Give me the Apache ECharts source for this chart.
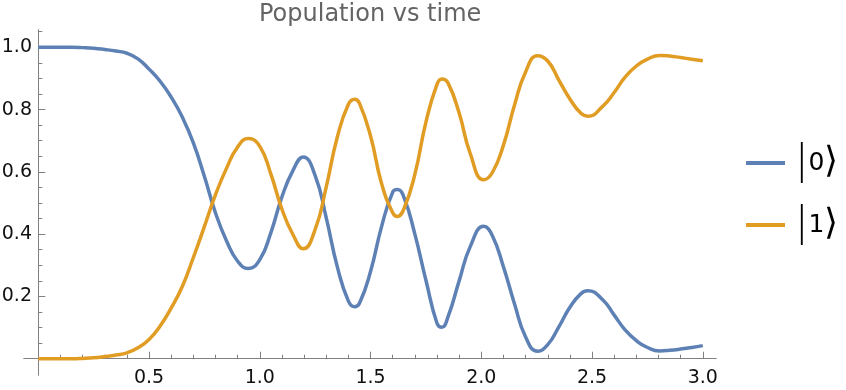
<!DOCTYPE html>
<html>
<head>
<meta charset="utf-8">
<script src="https://cdn.jsdelivr.net/npm/echarts@6/dist/echarts.min.js"></script>
<style>html,body{margin:0;padding:0;background:#fff;}#c{width:846px;height:390px;}</style>
</head>
<body>
<div id="c"></div>
<script>
// time samples (extrema included)
const times = [0.00,0.05,0.10,0.15,0.20,0.25,0.30,0.35,0.40,0.45,0.50,0.55,0.60,0.65,0.70,0.75,0.80,0.85,0.90,0.948,
  1.00,1.05,1.10,1.15,1.196,1.25,1.30,1.35,1.40,1.428,1.45,1.50,1.55,1.60,1.621,1.65,1.70,1.75,1.80,1.822,1.85,1.90,1.95,
  2.011,2.05,2.10,2.15,2.20,2.254,2.30,2.35,2.40,2.45,2.481,2.55,2.60,2.65,2.70,2.75,2.805,2.85,2.90,2.95,3.00];
// population of |0>
const pop0 = [1.000,1.000,1.000,1.000,0.999,0.997,0.993,0.988,0.981,0.963,0.930,0.891,0.840,0.776,0.693,0.585,0.468,0.378,0.313,0.290,
  0.318,0.405,0.520,0.605,0.648,0.588,0.452,0.295,0.185,0.167,0.178,0.280,0.425,0.535,0.543,0.520,0.400,0.252,0.114,0.101,0.135,0.250,0.360,
  0.425,0.395,0.295,0.176,0.070,0.024,0.045,0.102,0.165,0.209,0.218,0.188,0.140,0.092,0.058,0.036,0.025,0.027,0.031,0.036,0.042];
// population of |1>
const pop1 = [0.000,0.000,0.000,0.000,0.001,0.003,0.007,0.012,0.019,0.035,0.062,0.105,0.163,0.232,0.325,0.425,0.527,0.612,0.680,0.707,
  0.682,0.593,0.480,0.398,0.353,0.415,0.552,0.712,0.817,0.833,0.820,0.715,0.562,0.469,0.457,0.480,0.592,0.760,0.881,0.898,0.885,0.789,0.659,
  0.575,0.598,0.686,0.815,0.921,0.973,0.956,0.895,0.834,0.788,0.779,0.812,0.855,0.905,0.940,0.962,0.974,0.972,0.967,0.962,0.957];
const seriesNames = ['0', '1'];
const titleText = 'Population vs time';
const xMajor = [0.5,1.0,1.5,2.0,2.5,3.0];
const xMinor = [0.1,0.2,0.3,0.4,0.6,0.7,0.8,0.9,1.1,1.2,1.3,1.4,1.6,1.7,1.8,1.9,2.1,2.2,2.3,2.4,2.6,2.7,2.8,2.9];
const yMajor = [0.2,0.4,0.6,0.8,1.0];
const yMinor = [0.05,0.1,0.15,0.25,0.3,0.35,0.45,0.5,0.55,0.65,0.7,0.75,0.85,0.9,0.95,1.05];

const X_MIN = -0.0646, X_MAX = 3.0596, Y_MIN = -0.0523, Y_MAX = 1.0556;
const axisCol = '#808080';
const font = 'DejaVu Sans';

const chart = echarts.init(document.getElementById('c'), null, {renderer: 'canvas'});
function mk(arr) { return times.map((t, i) => [t, arr[i]]); }

const baseX = {
  type: 'value', min: X_MIN, max: X_MAX, position: 'bottom', gridIndex: 0,
  axisLine: {onZero: true, lineStyle: {color: axisCol, width: 1}},
  splitLine: {show: false}
};
const baseY = {
  type: 'value', min: Y_MIN, max: Y_MAX, position: 'left', gridIndex: 0,
  axisLine: {onZero: true, lineStyle: {color: axisCol, width: 1}},
  splitLine: {show: false}
};

chart.setOption({
  animation: false,
  backgroundColor: '#fff',
  title: {
    text: titleText, left: 254, top: -2,
    textStyle: {fontFamily: font, fontSize: 24, fontWeight: 'normal', color: '#646464'}
  },
  grid: {left: 24, top: 30, width: 692, height: 345, containLabel: false, outerBoundsMode: 'none'},
  xAxis: [
    Object.assign({}, baseX, {
      axisTick: {show: true, inside: true, length: 7, customValues: xMajor, lineStyle: {color: axisCol}},
      axisLabel: {show: true, customValues: xMajor, margin: -6, formatter: v => v.toFixed(1),
        fontFamily: font, fontSize: 19, color: '#111'}
    }),
    Object.assign({}, baseX, {
      axisTick: {show: true, inside: true, length: 4, customValues: xMinor, lineStyle: {color: axisCol}},
      axisLabel: {show: false}
    })
  ],
  yAxis: [
    Object.assign({}, baseY, {
      axisTick: {show: true, inside: true, length: 7, customValues: yMajor, lineStyle: {color: axisCol}},
      axisLabel: {show: true, customValues: yMajor, margin: -8, formatter: v => v.toFixed(1),
        fontFamily: font, fontSize: 19, color: '#111'}
    }),
    Object.assign({}, baseY, {
      axisTick: {show: true, inside: true, length: 4, customValues: yMinor, lineStyle: {color: axisCol}},
      axisLabel: {show: false}
    })
  ],
  legend: {
    orient: 'vertical', left: 741, top: 138, itemWidth: 39, itemHeight: 4, itemGap: 22,
    icon: 'rect',
    formatter: name => '{b|\u007c}{n|' + name + '}{a|\u27e9}',
    textStyle: {
      fontFamily: font, color: '#000',
      rich: {
        b: {fontFamily: font, fontSize: 40, lineHeight: 44, padding: [0, 0, 0, 5], color: '#000', fontWeight: 200},
        n: {fontFamily: font, fontSize: 25, lineHeight: 44, color: '#000'},
        a: {fontFamily: font, fontSize: 36, lineHeight: 44, color: '#000', fontWeight: 200}
      }
    },
    data: seriesNames
  },
  series: [
    {name: seriesNames[0], type: 'line', data: mk(pop0), smooth: 0.5, showSymbol: false, symbol: 'none',
      xAxisIndex: 0, yAxisIndex: 0,
      lineStyle: {color: '#5E81B5', width: 3.5}, itemStyle: {color: '#5E81B5'}},
    {name: seriesNames[1], type: 'line', data: mk(pop1), smooth: 0.5, showSymbol: false, symbol: 'none',
      xAxisIndex: 0, yAxisIndex: 0,
      lineStyle: {color: '#E19C24', width: 3.5}, itemStyle: {color: '#E19C24'}}
  ]
});
</script>
</body>
</html>
